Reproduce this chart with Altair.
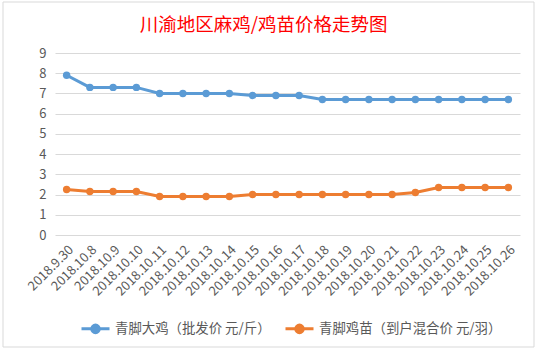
import altair as alt
import pandas as pd

dates = ["2018.9.30", "2018.10.8", "2018.10.9", "2018.10.10", "2018.10.11",
         "2018.10.12", "2018.10.13", "2018.10.14", "2018.10.15", "2018.10.16",
         "2018.10.17", "2018.10.18", "2018.10.19", "2018.10.20", "2018.10.21",
         "2018.10.22", "2018.10.23", "2018.10.24", "2018.10.25", "2018.10.26"]
chicken = [7.9, 7.3, 7.3, 7.3, 7.0, 7.0, 7.0, 7.0, 6.9, 6.9,
           6.9, 6.7, 6.7, 6.7, 6.7, 6.7, 6.7, 6.7, 6.7, 6.7]
chick = [2.25, 2.15, 2.15, 2.15, 1.9, 1.9, 1.9, 1.9, 2.0, 2.0,
         2.0, 2.0, 2.0, 2.0, 2.0, 2.1, 2.35, 2.35, 2.35, 2.35]
series = ["青脚大鸡（批发价 元/斤）", "青脚鸡苗（到户混合价 元/羽）"]
colors = ["#5B9BD5", "#ED7D31"]

rows = []
for d, v in zip(dates, chicken):
    rows.append({"date": d, "value": v, "series": series[0]})
for d, v in zip(dates, chick):
    rows.append({"date": d, "value": v, "series": series[1]})
df = pd.DataFrame(rows)

FONT = "Noto Sans CJK SC"
legend_symbol = "M-1,0L1,0M-0.27,0A0.27,0.27 0 1,1 0.27,0A0.27,0.27 0 1,1 -0.27,0Z"

x = alt.X("date:N", sort=dates, title=None,
          scale=alt.Scale(type="point", padding=0.5),
          axis=alt.Axis(labelAngle=-45, domain=False, ticks=False, grid=False,
                        labelFontSize=13, labelColor="#595959", labelFont=FONT,
                        labelPadding=8))
y = alt.Y("value:Q", title=None,
          scale=alt.Scale(domain=[0, 9], nice=False, zero=True),
          axis=alt.Axis(values=list(range(10)), domain=False, ticks=False,
                        grid=True, gridColor="#d9d9d9", gridWidth=1,
                        labelFontSize=13, labelColor="#595959", labelFont=FONT,
                        labelPadding=9))
color = alt.Color("series:N", sort=series, title=None,
                  scale=alt.Scale(domain=series, range=colors),
                  legend=alt.Legend(orient="none", legendX=25, legendY=260,
                                    direction="horizontal",
                                    symbolType=legend_symbol, symbolSize=784,
                                    symbolStrokeWidth=3, labelFontSize=13.4,
                                    labelFont=FONT, labelColor="#595959",
                                    labelOffset=4, columnPadding=8,
                                    labelLimit=300))

lines = alt.Chart(df).mark_line(strokeWidth=3).encode(x=x, y=y, color=color)
points = alt.Chart(df).mark_circle(size=55, opacity=1).encode(
    x=x, y=y, color=alt.Color("series:N", sort=series,
                              scale=alt.Scale(domain=series, range=colors),
                              legend=None))

frame = alt.Chart(pd.DataFrame({"a": [0]})).mark_rect(
    fill=None, stroke="#d9d9d9", strokeWidth=1, clip=False).encode(
    x=alt.value(-52), x2=alt.value(479), y=alt.value(-51), y2=alt.value(294))

chart = alt.layer(frame, lines, points).properties(
    width=465, height=182,
    autosize=alt.AutoSizeParams(type="none"),
    padding={"left": 55, "top": 53, "right": 17, "bottom": 116},
    title=alt.TitleParams("川渝地区麻鸡/鸡苗价格走势图", color="#FF0000",
                          fontSize=18.5, font=FONT, fontWeight="normal",
                          anchor="middle", dx=-24, offset=-33),
    background="white",
).configure_view(stroke=None)

chart.save("out.html", embed_options={"renderer": "svg", "actions": False})
